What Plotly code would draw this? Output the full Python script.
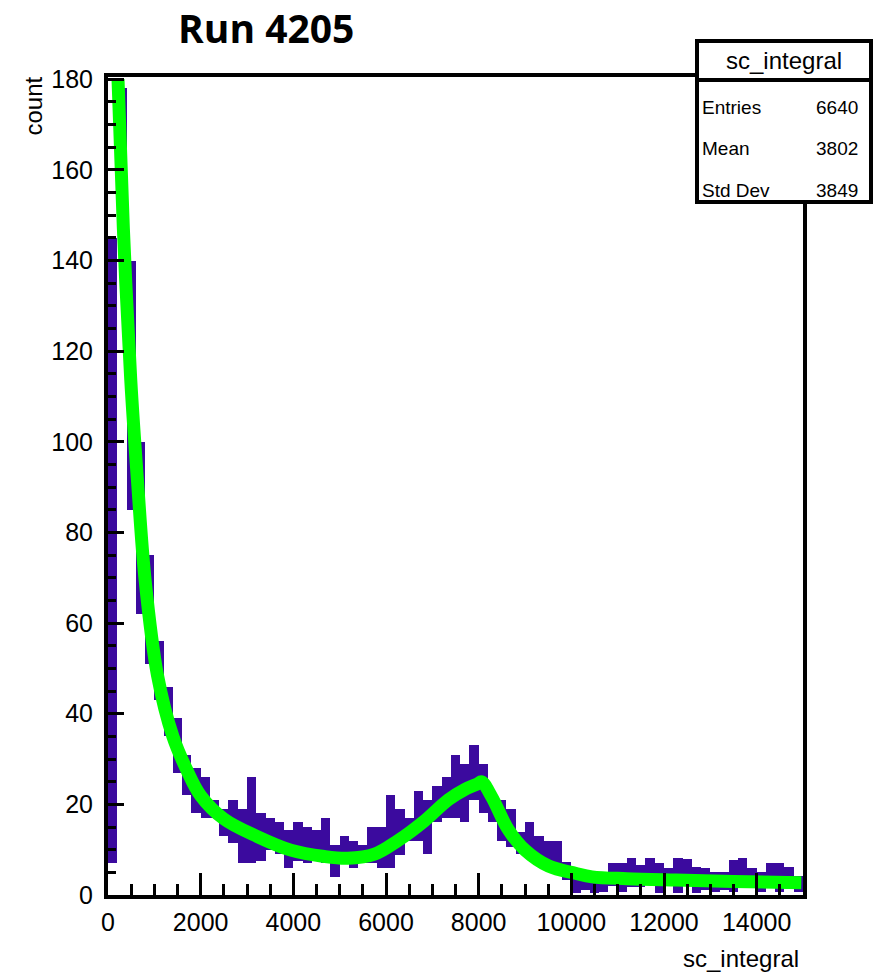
import plotly.graph_objects as go

# ---------------- data ----------------
bin_width = 200
bin_centers = [100 + bin_width * k for k in range(75)]

counts = [76, 164, 112.5, 81, 63, 49.5, 40.5, 33, 26.5, 23,
          21.5, 19, 16, 16.2, 13, 16.5, 12.8, 13.5, 12.5, 10.2,
          11.8, 11, 11.8, 12, 7.5, 10, 9, 9, 11, 10.5,
          14, 13.9, 14.5, 17.5, 15, 20, 21.5, 24, 22.5, 27,
          23.5, 19, 16.5, 14.8, 11.5, 13, 10.2, 8.8, 8.5, 5.3,
          2.6, 2.9, 2.7, 2.8, 4.5, 3.9, 5, 4.2, 5.2, 3.7,
          4, 4.3, 5, 3.3, 3.5, 2.9, 3, 4.2, 5.5, 4,
          2.9, 5, 3.9, 4, 2.4]
errors = [69, 14, 27.5, 19, 12, 6.5, 5.5, 6, 4.5, 5,
          4.5, 2, 3, 4.8, 6, 9.5, 5.2, 3.5, 3.5, 4.2,
          4.2, 4, 2.6, 5, 3.5, 3, 3, 2, 4, 4.5,
          8, 5.1, 2.5, 5.5, 6, 4, 4.5, 7, 6.5, 6,
          5.5, 3, 4.5, 4.2, 2.5, 3, 2.8, 3.2, 3.5, 2,
          2.2, 1.9, 2.3, 2.1, 2.5, 3.2, 3.2, 2.4, 3, 3.3,
          2, 3.9, 3, 2.9, 2.5, 2.2, 2, 3.5, 2.7, 2,
          2.2, 2, 3.2, 2.2, 1.7]

fit_x = [216, 332, 491, 635, 800, 1068, 1400, 1705, 1994, 2500,
         3223, 3945, 4667, 5173, 5751, 6257, 6835, 7341, 7700, 7991,
         8063, 8280, 8641, 9002, 9509, 10087, 10448, 11200, 12254, 13500, 14963]
fit_y = [180, 147, 113.7, 91.6, 69.6, 48.5, 35, 27.5, 22, 16.8,
         12.9, 9.9, 8.5, 8.1, 9.0, 12, 16.4, 21, 23.3, 24.6,
         25, 21.7, 14.4, 9.9, 6.4, 4.8, 4.0, 3.6, 3.3, 3.0, 2.7]

x_ticks = [0, 2000, 4000, 6000, 8000, 10000, 12000, 14000]
x_tick_text = ["0", "2000", "4000", "6000", "8000", "10000", "12000", "14000"]
y_ticks = [0, 20, 40, 60, 80, 100, 120, 140, 160, 180]

stats_title = "sc_integral"
stats_labels = ["Entries", "Mean", "Std Dev"]
stats_values = ["6640", "3802", "3849"]

# ---------------- figure ----------------
W, H = 879, 974
L, R, T, B = 108, 76, 77, 79
PW, PH = W - L - R, H - T - B


def px(xp):
    return (xp - L) / PW


def py(yp):
    return (H - B - yp) / PH


FONT = "Liberation Sans, Arial, sans-serif"
PURPLE = "#3b0a9e"

fig = go.Figure()
fig.add_trace(go.Bar(
    x=bin_centers,
    y=[2 * e for e in errors],
    base=[c - e for c, e in zip(counts, errors)],
    width=bin_width,
    marker=dict(color=PURPLE, line=dict(width=0)),
    hoverinfo="skip",
    showlegend=False,
))
fig.add_trace(go.Scatter(
    x=fit_x, y=fit_y, mode="lines",
    line=dict(color="#00ff00", width=13, shape="spline", smoothing=1.0),
    showlegend=False, hoverinfo="skip",
))

axis_common = dict(
    showline=True, linecolor="black", linewidth=4, mirror=True,
    ticks="inside", tickcolor="black", tickwidth=3,
    showgrid=False, zeroline=False,
    tickfont=dict(family=FONT, size=25, color="black"),
)

fig.update_layout(
    width=W, height=H,
    margin=dict(l=L, r=R, t=T, b=B),
    paper_bgcolor="white", plot_bgcolor="white",
    bargap=0,
    xaxis=dict(range=[0, 15000], tickvals=x_ticks, ticktext=x_tick_text, ticklen=22,
               minor=dict(dtick=500, ticklen=11, tickwidth=3, tickcolor="black", ticks="inside"),
               ticklabelstandoff=2,
               **axis_common),
    yaxis=dict(range=[0, 180.5], tickvals=y_ticks, ticklen=16,
               minor=dict(dtick=5, ticklen=8, tickwidth=3, tickcolor="black", ticks="inside"),
               ticklabelstandoff=6,
               **axis_common),
)

# title
fig.add_annotation(text="<b>Run 4205</b>", xref="paper", yref="paper",
                   x=px(266), y=py(27), xanchor="center", yanchor="middle",
                   showarrow=False, font=dict(family="Open Sans, Lato, Liberation Sans", size=39, color="black"))
# axis titles
fig.add_annotation(text="count", xref="paper", yref="paper",
                   x=px(33), y=py(75), xanchor="center", yanchor="top", textangle=-90,
                   showarrow=False, font=dict(family=FONT, size=24, color="black"))
fig.add_annotation(text="sc_integral", xref="paper", yref="paper",
                   x=px(801), y=py(958), xanchor="right", yanchor="middle",
                   showarrow=False, font=dict(family=FONT, size=24, color="black"))

# stats box
bx0, bx1, by0, by1 = 697, 871, 41, 202
fig.add_shape(type="rect", xref="paper", yref="paper",
              x0=px(bx0), x1=px(bx1), y0=py(by1), y1=py(by0),
              fillcolor="white", line=dict(color="black", width=4), layer="above")
fig.add_shape(type="line", xref="paper", yref="paper",
              x0=px(bx0), x1=px(bx1), y0=py(80), y1=py(80),
              line=dict(color="black", width=4), layer="above")
fig.add_annotation(text=stats_title, xref="paper", yref="paper",
                   x=px((bx0 + bx1) / 2), y=py(61), xanchor="center", yanchor="middle",
                   showarrow=False, font=dict(family=FONT, size=24, color="black"))
row_y = [107, 148, 190]
for lab, val, yy in zip(stats_labels, stats_values, row_y):
    fig.add_annotation(text=lab, xref="paper", yref="paper",
                       x=px(700), y=py(yy), xanchor="left", yanchor="middle",
                       showarrow=False, font=dict(family=FONT, size=19, color="black"))
    fig.add_annotation(text=val, xref="paper", yref="paper",
                       x=px(860), y=py(yy), xanchor="right", yanchor="middle",
                       showarrow=False, font=dict(family=FONT, size=19, color="black"))

fig.write_html("out.html")
